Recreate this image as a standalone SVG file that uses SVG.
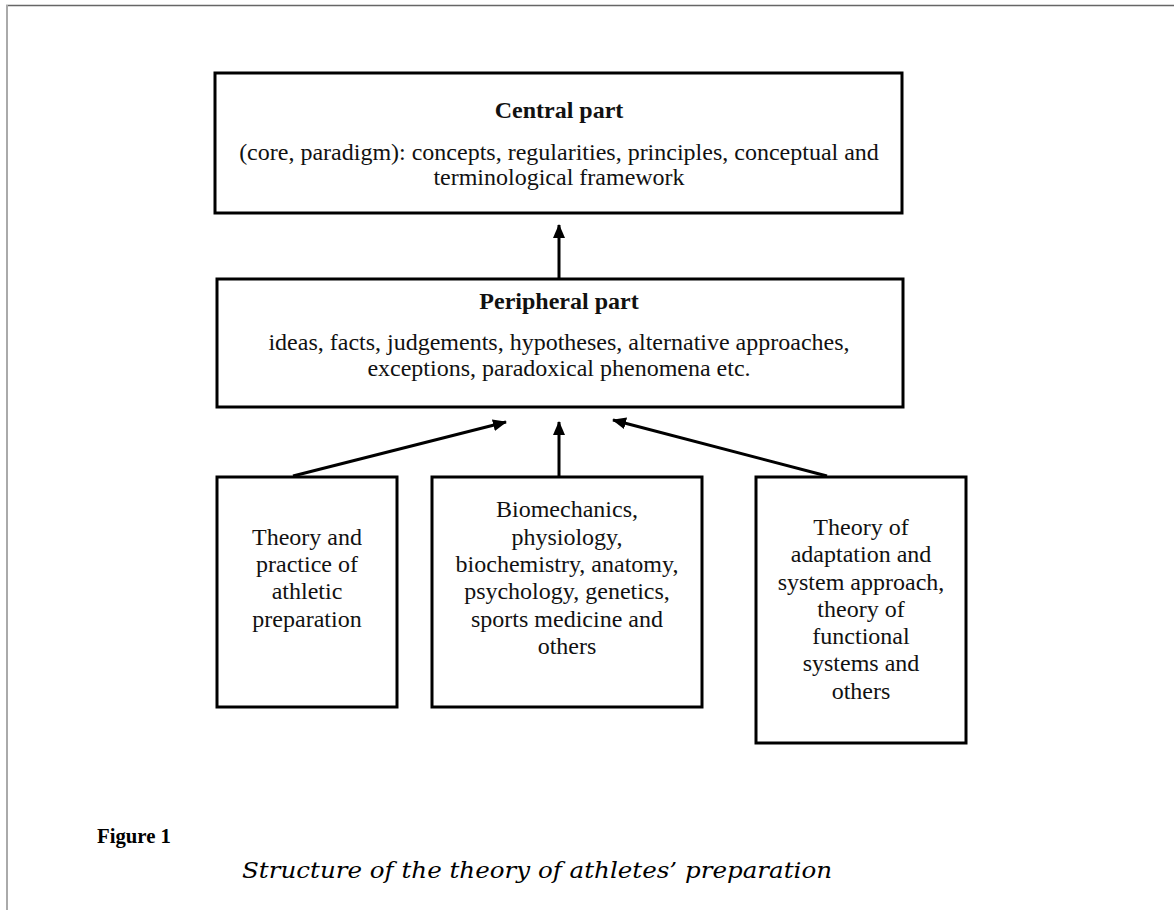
<svg xmlns="http://www.w3.org/2000/svg" width="1174" height="910" viewBox="0 0 1174 910">
<defs>
<marker id="ah" markerWidth="14" markerHeight="12" refX="13" refY="6" orient="auto" markerUnits="userSpaceOnUse">
<path d="M0,0 L14,6 L0,12 Z" fill="#000"/>
</marker>
</defs>
<style>
.box{fill:#fff;stroke:#000;stroke-width:3}
.t{font-family:"Liberation Serif","Times New Roman",serif;fill:#111;text-anchor:middle}
.h{font-size:24px;font-weight:bold}
.s{font-size:24px}
.b{font-size:24px}
.conn{stroke:#000;stroke-width:3;fill:none;marker-end:url(#ah)}
.fig{font-family:"Liberation Serif","Times New Roman",serif;fill:#000;font-size:22px;font-weight:bold}
.cap{font-family:"DejaVu Serif","Liberation Serif",serif;fill:#000;font-size:22px;font-style:italic}
</style>
<rect width="1174" height="910" fill="#fff"/>
<line x1="6" y1="5.5" x2="1174" y2="5.5" stroke="#666" stroke-width="1.5"/>
<line x1="7" y1="5" x2="7" y2="910" stroke="#aaa" stroke-width="2"/>

<g id="central">
<rect class="box" x="215" y="73" width="687" height="140"/>
<text class="t h" x="559" y="118">Central part</text>
<text class="t s" x="559" y="160">(core, paradigm): concepts, regularities, principles, conceptual and</text>
<text class="t s" x="559" y="185">terminological framework</text>
</g>

<g id="peripheral">
<rect class="box" x="217" y="279" width="686" height="128"/>
<text class="t h" x="559" y="309">Peripheral part</text>
<text class="t s" x="559" y="350">ideas, facts, judgements, hypotheses, alternative approaches,</text>
<text class="t s" x="559" y="376">exceptions, paradoxical phenomena etc.</text>
</g>

<g id="theory-practice">
<rect class="box" x="217" y="477" width="180" height="230"/>
<text class="t b" x="307" y="545">Theory and</text>
<text class="t b" x="307" y="572">practice of</text>
<text class="t b" x="307" y="599">athletic</text>
<text class="t b" x="307" y="627">preparation</text>
</g>

<g id="sciences">
<rect class="box" x="432" y="477" width="270" height="230"/>
<text class="t b" x="567" y="517">Biomechanics,</text>
<text class="t b" x="567" y="545">physiology,</text>
<text class="t b" x="567" y="572">biochemistry, anatomy,</text>
<text class="t b" x="567" y="599">psychology, genetics,</text>
<text class="t b" x="567" y="627">sports medicine and</text>
<text class="t b" x="567" y="654">others</text>
</g>

<g id="adaptation">
<rect class="box" x="756" y="477" width="210" height="266"/>
<text class="t b" x="861" y="535">Theory of</text>
<text class="t b" x="861" y="562">adaptation and</text>
<text class="t b" x="861" y="590">system approach,</text>
<text class="t b" x="861" y="617">theory of</text>
<text class="t b" x="861" y="644">functional</text>
<text class="t b" x="861" y="671">systems and</text>
<text class="t b" x="861" y="699">others</text>
</g>

<g id="connectors">
<line class="conn" x1="559" y1="279" x2="559" y2="225"/>
<line class="conn" x1="293" y1="476" x2="506" y2="422"/>
<line class="conn" x1="559" y1="476" x2="559" y2="422"/>
<line class="conn" x1="827" y1="476" x2="613" y2="420"/>
</g>

<g id="caption">
<text class="fig" x="97" y="843" textLength="74" lengthAdjust="spacingAndGlyphs">Figure 1</text>
<text class="cap" x="242" y="878" textLength="590" lengthAdjust="spacingAndGlyphs">Structure of the theory of athletes’ preparation</text>
</g>
</svg>
